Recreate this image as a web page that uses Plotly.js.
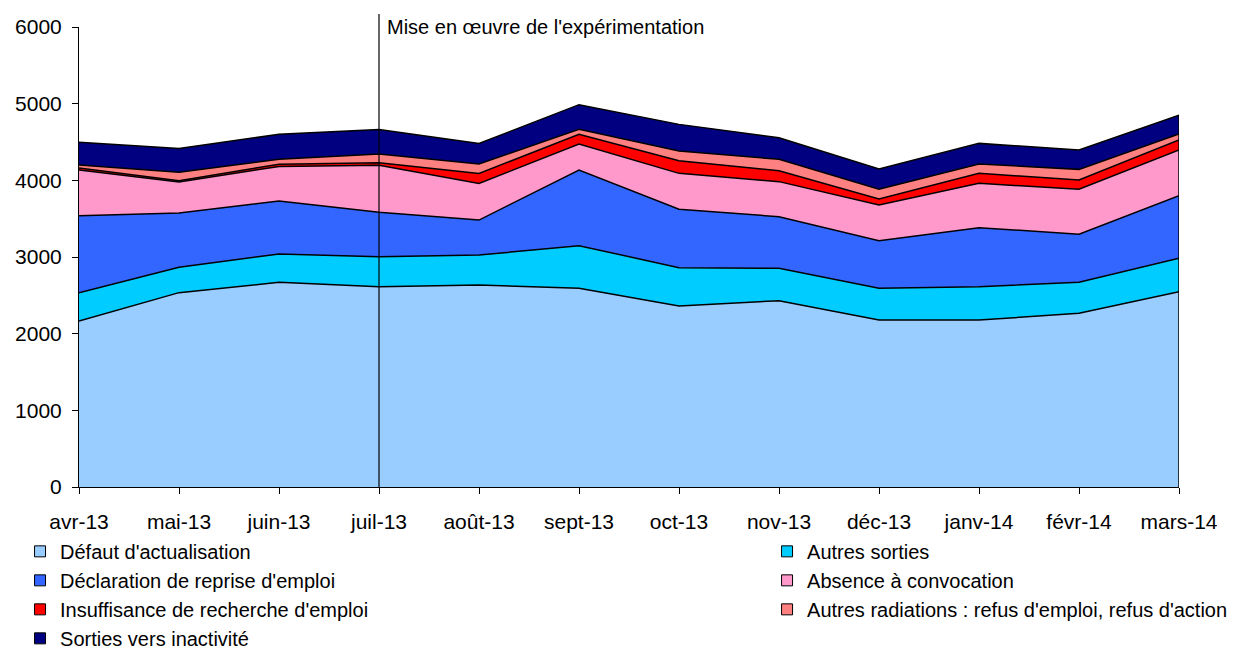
<!DOCTYPE html>
<html>
<head>
<meta charset="utf-8">
<script src="https://cdn.plot.ly/plotly-3.0.1.min.js"></script>
<style>html,body{margin:0;padding:0;background:#fff;}#chart{width:1237px;height:650px;}</style>
</head>
<body>
<div id="chart"></div>
<script>
var months = ['avr-13','mai-13','juin-13','juil-13','août-13','sept-13','oct-13','nov-13','déc-13','janv-14','févr-14','mars-14'];

var defautActualisation = [2165, 2535, 2670, 2613, 2635, 2591, 2361, 2430, 2178, 2178, 2265, 2548];
var autresSorties       = [370, 330, 370, 390, 390, 557, 500, 422, 413, 435, 405, 435];
var declarationReprise  = [1004, 710, 690, 580, 457, 987, 761, 674, 622, 770, 626, 817];
var absenceConvocation  = [596, 405, 450, 615, 478, 339, 469, 457, 465, 578, 587, 596];
var insuffisanceRecherche = [25, 15, 30, 30, 130, 126, 165, 143, 79, 130, 121, 130];
var autresRadiations    = [40, 110, 65, 115, 122, 65, 127, 148, 126, 122, 139, 78];
var sortiesInactivite   = [296, 310, 325, 320, 269, 322, 347, 282, 265, 269, 253, 244];

var seriesNames = ["Défaut d'actualisation", "Autres sorties", "Déclaration de reprise d'emploi",
  "Absence à convocation", "Insuffisance de recherche d'emploi",
  "Autres radiations : refus d'emploi, refus d'action", "Sorties vers inactivité"];
var seriesValues = [defautActualisation, autresSorties, declarationReprise, absenceConvocation,
  insuffisanceRecherche, autresRadiations, sortiesInactivite];
var seriesColors = ['#99CCFF', '#00CCFF', '#3366FF', '#FF99CC', '#FF0000', '#FF8080', '#000080'];
var legendAssign = ['legend', 'legend2', 'legend', 'legend2', 'legend', 'legend2', 'legend'];

var eventLabel = "Mise en œuvre de l'expérimentation";
var eventMonth = 'juil-13';

var FONT = '"Liberation Sans", Arial, sans-serif';
var traces = [];
for (var i = 0; i < seriesValues.length; i++) {
  traces.push({
    type: 'scatter', mode: 'lines', x: months, y: seriesValues[i],
    stackgroup: 'one', name: seriesNames[i],
    line: {color: '#000000', width: 1.5}, fillcolor: seriesColors[i],
    showlegend: false, hoverinfo: 'x+y+name'
  });
}
// right edge outline of the stacked area
var lastIdx = months.length - 1;
var lastTotal = 0;
for (var j = 0; j < seriesValues.length; j++) lastTotal += seriesValues[j][lastIdx];
traces.push({
  type: 'scatter', mode: 'lines', x: [months[lastIdx], months[lastIdx]], y: [0, lastTotal],
  line: {color: '#000000', width: 1.5}, showlegend: false, hoverinfo: 'skip', cliponaxis: false
});
// legend entries (square swatches)
for (var k = 0; k < seriesValues.length; k++) {
  traces.push({
    type: 'scatter', mode: 'markers', x: [null], y: [null], name: seriesNames[k],
    legend: legendAssign[k],
    marker: {symbol: 'square', size: 11, color: seriesColors[k], line: {color: '#000000', width: 1}},
    showlegend: true, hoverinfo: 'skip'
  });
}

var legendCommon = {
  orientation: 'v', traceorder: 'normal', bgcolor: 'rgba(0,0,0,0)', borderwidth: 0,
  font: {family: FONT, size: 20, color: '#000000'},
  xanchor: 'left', yanchor: 'top', tracegroupgap: 0, itemclick: false, itemdoubleclick: false
};

var layout = {
  width: 1237, height: 650,
  margin: {l: 79, r: 58, t: 27, b: 163, autoexpand: false},
  paper_bgcolor: '#ffffff', plot_bgcolor: '#ffffff',
  font: {family: FONT, size: 20, color: '#000000'},
  showlegend: true,
  xaxis: {
    type: 'category', range: [0, months.length - 1], showgrid: false, zeroline: false,
    showline: true, linecolor: '#000000', linewidth: 1,
    ticks: 'outside', ticklen: 6, tickcolor: '#000000', tickwidth: 1,
    tickfont: {family: FONT, size: 21, color: '#000000'}, ticklabelstandoff: 10,
    fixedrange: true
  },
  yaxis: {
    range: [0, 6000], dtick: 1000, showgrid: false, zeroline: false,
    showline: true, linecolor: '#000000', linewidth: 1,
    ticks: 'outside', ticklen: 6, tickcolor: '#000000', tickwidth: 1,
    tickfont: {family: FONT, size: 21, color: '#000000'}, ticklabelstandoff: 6,
    fixedrange: true
  },
  legend: Object.assign({}, legendCommon, {x: -0.0536, y: -0.0975}),
  legend2: Object.assign({}, legendCommon, {x: 0.6255, y: -0.0975}),
  shapes: [{
    type: 'line', xref: 'x', yref: 'paper', x0: eventMonth, x1: eventMonth, y0: 0, y1: 1.028,
    line: {color: '#000000', width: 1.2}
  }],
  annotations: [{
    xref: 'x', yref: 'paper', x: eventMonth, y: 1.0, xanchor: 'left', yanchor: 'middle',
    xshift: 6, showarrow: false, text: eventLabel,
    font: {family: FONT, size: 20, color: '#000000'}
  }]
};

Plotly.newPlot('chart', traces, layout, {displayModeBar: false, staticPlot: true});
</script>
</body>
</html>
